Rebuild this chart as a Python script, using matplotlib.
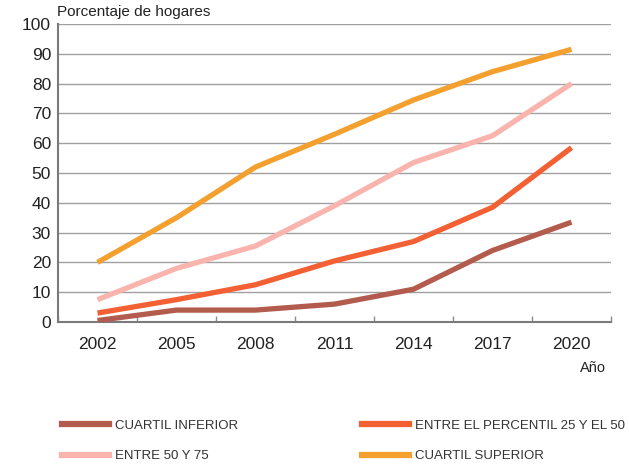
import matplotlib
matplotlib.use("Agg")
import matplotlib.pyplot as plt
from matplotlib.lines import Line2D

plt.rcParams['font.family'] = ['Liberation Sans', 'DejaVu Sans']

years = ['2002', '2005', '2008', '2011', '2014', '2017', '2020']
cuartil_inferior = [0.5, 4, 4, 6, 11, 24, 33.5]
percentil_25_50 = [3, 7.5, 12.5, 20.5, 27, 38.5, 58.5]
entre_50_75 = [7.5, 18, 25.5, 39, 53.5, 62.5, 80]
cuartil_superior = [20, 35, 52, 63, 74.5, 84, 91.5]

series = [
    ('CUARTIL INFERIOR', cuartil_inferior, '#b35c4e'),
    ('ENTRE 50 Y 75', entre_50_75, '#f9b4ae'),
    ('ENTRE EL PERCENTIL 25 Y EL 50', percentil_25_50, '#f26033'),
    ('CUARTIL SUPERIOR', cuartil_superior, '#f3a02e'),
]

fig = plt.figure(figsize=(6.29, 4.65), dpi=100)
ax = fig.add_axes([58 / 629, 1 - 322 / 465, 553 / 629, 298 / 465])

x = range(len(years))
# draw in stacking order (lowest first)
for name, vals, col in [series[0], series[2], series[1], series[3]]:
    ax.plot(x, vals, color=col, lw=3.8, solid_capstyle='butt', zorder=3)

ax.set_xlim(-0.5, len(years) - 0.5)
ax.set_ylim(0, 100)
ax.set_yticks(range(0, 101, 10))
ax.set_xticks(x)
ax.set_xticklabels(years)
ax.set_xticks([i - 0.5 for i in range(len(years) + 1)], minor=True)

ax.grid(axis='y', color='#a0a0a0', lw=1.0, zorder=0)
for s in ['top', 'right']:
    ax.spines[s].set_visible(False)
for s in ['left', 'bottom']:
    ax.spines[s].set_color('#7a7a7a')
    ax.spines[s].set_linewidth(1.5)

ax.tick_params(axis='y', length=0, labelsize=12.5, pad=5, colors='#222222')
ax.tick_params(axis='x', which='major', length=0, labelsize=12.5, pad=11, colors='#222222')
ax.tick_params(axis='x', which='minor', length=4, direction='in', color='#8c8c8c', width=1)

fig.text(57 / 629, 1 - 12 / 465, 'Porcentaje de hogares', fontsize=11,
         color='#222222', va='center', ha='left')
fig.text(606 / 629, 1 - 368 / 465, 'Año', fontsize=10.5,
         color='#222222', va='center', ha='right')

# legend: two columns placed separately
leg_kw = dict(loc='upper left', frameon=False, handlelength=3.6,
              handletextpad=0.45, labelspacing=1.35,
              prop={'size': 9.5}, labelcolor='#333333')
h = [Line2D([], [], color=c, lw=4.5) for _, _, c in series]
lab = [n for n, _, _ in series]
leg1 = fig.legend(h[:2], lab[:2], bbox_to_anchor=(50 / 629, 1 - 408 / 465), **leg_kw)
leg2 = fig.legend(h[2:], lab[2:], bbox_to_anchor=(350 / 629, 1 - 408 / 465), **leg_kw)

fig.savefig('out.png', dpi=100)
